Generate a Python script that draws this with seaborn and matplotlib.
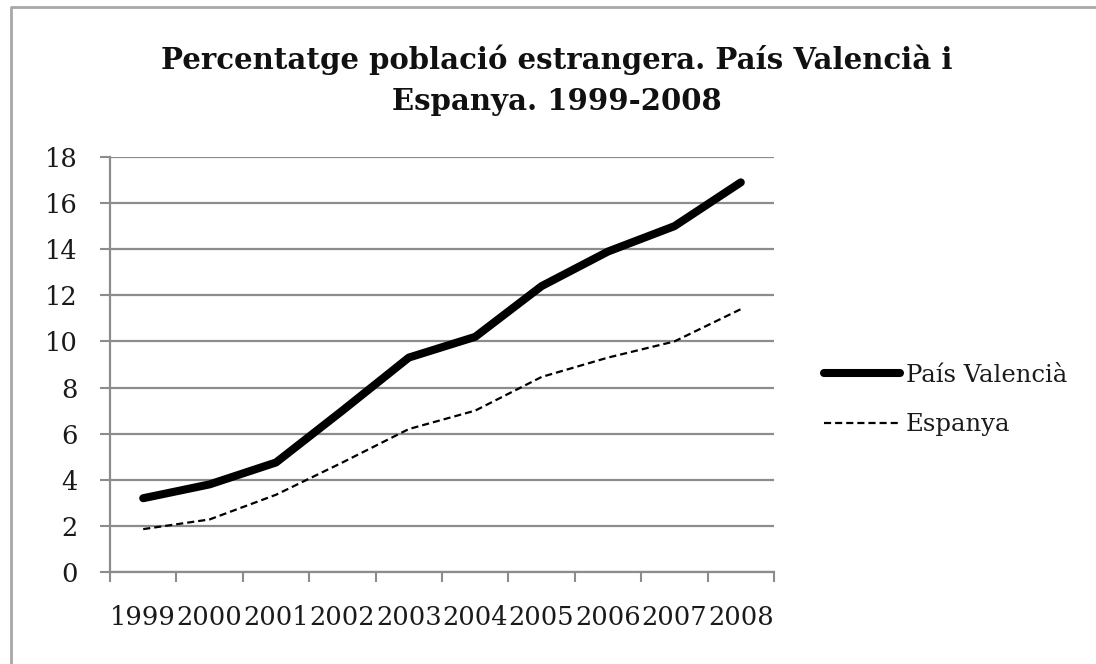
import matplotlib
matplotlib.use('Agg')
import matplotlib.pyplot as plt
from matplotlib.lines import Line2D
import seaborn as sns

# ── Data ──────────────────────────────────────────────────────────────────
years = [1999, 2000, 2001, 2002, 2003, 2004, 2005, 2006, 2007, 2008]
pais_valencia = [3.2, 3.8, 4.75, 7.0, 9.3, 10.2, 12.4, 13.9, 15.0, 16.9]
espanya = [1.86, 2.28, 3.35, 4.75, 6.2, 7.0, 8.46, 9.3, 10.0, 11.4]
y_ticks = list(range(0, 19, 2))

title_1 = 'Percentatge població estrangera. País Valencià i'
title_2 = 'Espanya. 1999-2008'

# ── Style ─────────────────────────────────────────────────────────────────
sns.set_style('white')
plt.rcParams['font.family'] = ['DejaVu Serif']
grey = '#8c8c8c'

W, H = 1096, 664
fig = plt.figure(figsize=(W / 100, H / 100), dpi=100)
ax = fig.add_axes([110 / W, 1 - 572 / H, 664 / W, 415 / H])

# ── Lines ─────────────────────────────────────────────────────────────────
sns.lineplot(x=years, y=pais_valencia, ax=ax, color='black', linewidth=5.8,
             solid_capstyle='round', solid_joinstyle='round',
             label='País Valencià')
sns.lineplot(x=years, y=espanya, ax=ax, color='black', linewidth=1.6,
             linestyle=(0, (3.2, 1.8)), label='Espanya')

# ── Axes ──────────────────────────────────────────────────────────────────
ax.set_xlim(years[0] - 0.5, years[-1] + 0.5)
ax.set_ylim(0, 18)
ax.set_yticks(y_ticks)
ax.set_xticks(years)
ax.set_xticklabels([str(y) for y in years])
ax.set_xticks([y - 0.5 for y in years] + [years[-1] + 0.5], minor=True)

ax.yaxis.grid(True, color=grey, linewidth=1.6)
ax.xaxis.grid(False)
ax.set_axisbelow(True)

for side in ['top', 'right']:
    ax.spines[side].set_visible(False)
for side in ['left', 'bottom']:
    ax.spines[side].set_color(grey)
    ax.spines[side].set_linewidth(1.6)

ax.tick_params(axis='y', which='major', length=7.5, width=1.5, color=grey,
               labelsize=18.5, pad=16, left=True, labelcolor='#1a1a1a')
ax.tick_params(axis='x', which='major', length=0, labelsize=18.5, pad=24,
               labelcolor='#1a1a1a')
ax.tick_params(axis='x', which='minor', length=7.5, width=1.5, color=grey,
               bottom=True)
ax.set_xlabel('')
ax.set_ylabel('')

# ── Legend ────────────────────────────────────────────────────────────────
ax.legend(loc='center left', bbox_to_anchor=(812 / W, 1 - 400 / H),
          bbox_transform=fig.transFigure, frameon=False, fontsize=17.5,
          borderpad=0, handlelength=3.1, handletextpad=0.25,
          labelspacing=1.1, labelcolor='#1a1a1a')

# ── Title ─────────────────────────────────────────────────────────────────
fig.text(557 / W, 1 - 69 / H, title_1, ha='center', va='baseline',
         fontsize=21, fontweight='bold', color='#111111')
fig.text(557 / W, 1 - 110 / H, title_2, ha='center', va='baseline',
         fontsize=21, fontweight='bold', color='#111111')

# ── Frame around chart ────────────────────────────────────────────────────
fig.add_artist(Line2D([11 / W, 11 / W, 1.0], [0.0, 1 - 7 / H, 1 - 7 / H],
                      transform=fig.transFigure, color='#a8a8a8',
                      linewidth=2))

fig.savefig('out.png', dpi=100)
